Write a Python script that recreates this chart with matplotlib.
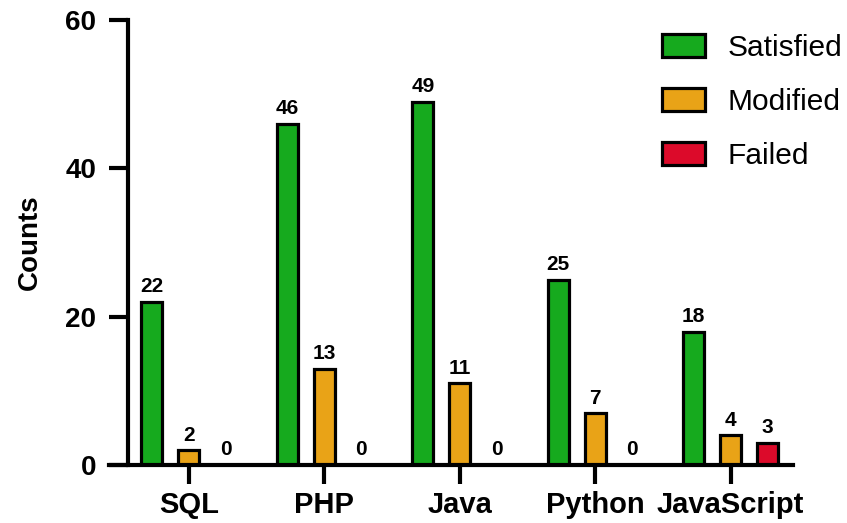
import matplotlib
matplotlib.use("Agg")
import matplotlib.pyplot as plt
import numpy as np

categories = ["SQL", "PHP", "Java", "Python", "JavaScript"]
series_names = ["Satisfied", "Modified", "Failed"]
satisfied = [22, 46, 49, 25, 18]
modified = [2, 13, 11, 7, 4]
failed = [0, 0, 0, 0, 3]
colors = ["#16AA1E", "#E9A317", "#DC0A2A"]
yticks = [0, 20, 40, 60]

plt.rcParams['font.family'] = ['Liberation Sans', 'DejaVu Sans']

fig = plt.figure(figsize=(8.47, 5.23), dpi=100)
ax = fig.add_axes([109/847, 1-465/523, (793-109)/847, 445/523])

for s in ['top', 'right']:
    ax.spines[s].set_visible(False)
ax.spines['left'].set_position(('data', -0.45))
ax.spines['left'].set_linewidth(3)
ax.spines['bottom'].set_linewidth(3)
ax.spines['left'].set_zorder(4)
ax.spines['bottom'].set_zorder(4)

x = np.arange(len(categories))
offset = 0.273
width = 0.155
for i, (vals, col, name) in enumerate(zip([satisfied, modified, failed], colors, series_names)):
    pos = x + (i - 1) * offset
    ax.bar(pos, vals, width, color=col, edgecolor='black', linewidth=2.3, label=name, zorder=3)
    for p, v in zip(pos, vals):
        ax.annotate(str(v), (p, v), xytext=(0, 4), textcoords='offset points',
                    ha='center', va='bottom', fontsize=15, fontweight='bold')

ax.set_xlim(-0.59, 4.46)
ax.set_ylim(0, 60)
ax.set_yticks(yticks)
ax.set_yticklabels([str(t) for t in yticks], fontsize=20, fontweight='bold')
ax.set_xticks(x)
ax.set_xticklabels(categories, fontsize=21, fontweight='bold')
ax.set_ylabel("Counts", fontsize=20, fontweight='bold', labelpad=16)

ax.tick_params(axis='both', width=3, length=14)
ax.tick_params(axis='y', pad=9, labelsize=20)
ax.tick_params(axis='x', pad=5, labelsize=21)

ax.legend(loc='upper left', bbox_to_anchor=(662/847, 1-34/523), bbox_transform=fig.transFigure,
          frameon=False, fontsize=21.5, handlelength=1.45, handleheight=0.8,
          labelspacing=0.87, handletextpad=0.75, borderpad=0, borderaxespad=0)

fig.savefig("out.png", dpi=100)
